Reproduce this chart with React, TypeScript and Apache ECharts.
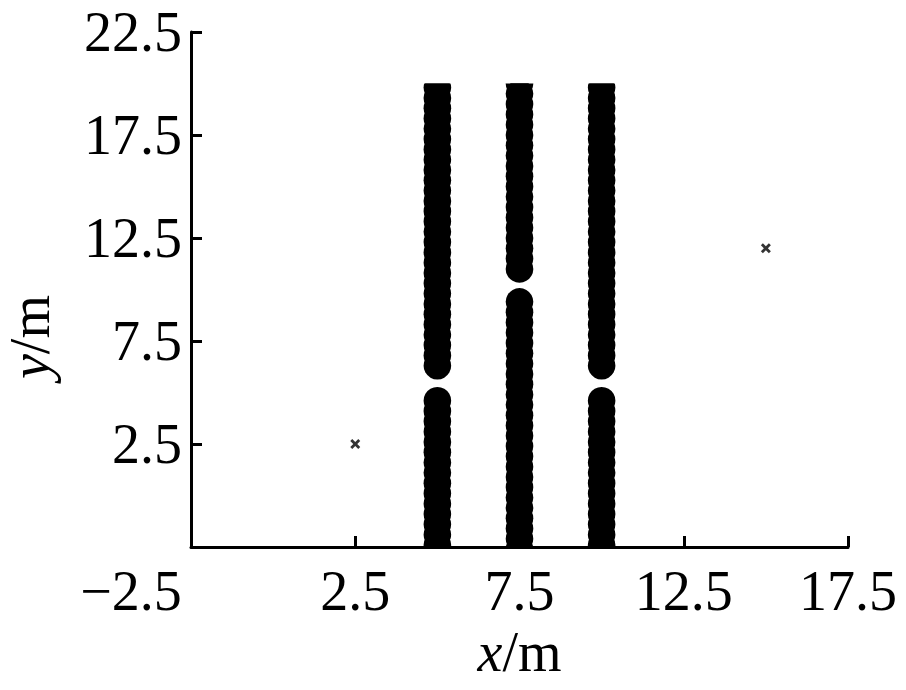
import React, { useEffect, useRef } from 'react';
import * as echarts from 'echarts';

// Axis ranges and tick step
const xRange = [-2.5, 17.5];
const yRange = [-2.5, 22.5];
const tickStep = 5;

// Walls (made of overlapping circular obstacles), clipped at the wall top
const wallTop = 20;
const outerWallX = [5, 10];
const middleWallX = [7.5];
const outerWallLowerY = [-2.9, -2.4, -1.9, -1.4, -0.9, -0.4, 0.1, 0.6, 1.1, 1.6, 2.1, 2.6, 3.1, 3.6, 4.1, 4.6];
const outerWallUpperY = [6.3, 6.8, 7.3, 7.8, 8.3, 8.8, 9.3, 9.8, 10.3, 10.8, 11.3, 11.8, 12.3, 12.8, 13.3, 13.8, 14.3, 14.8, 15.3, 15.8, 16.3, 16.8, 17.3, 17.8, 18.3, 18.8, 19.3, 19.8, 20.3];
const middleWallLowerY = [-2.6, -2.1, -1.6, -1.1, -0.6, -0.1, 0.4, 0.9, 1.4, 1.9, 2.4, 2.9, 3.4, 3.9, 4.4, 4.9, 5.4, 5.9, 6.4, 6.9, 7.4, 7.9, 8.4, 8.9, 9.4];
const middleWallUpperY = [11.0, 11.5, 12.0, 12.5, 13.0, 13.5, 14.0, 14.5, 15.0, 15.5, 16.0, 16.5, 17.0, 17.5, 18.0, 18.5, 19.0, 19.5, 20.0, 20.5];

// Cross markers
const crossX = [2.5, 15];
const crossY = [2.5, 12];

const FONT = '"Liberation Serif", "Times New Roman", Times, serif';

export default function App() {
  const ref = useRef<HTMLDivElement>(null);

  useEffect(() => {
    if (!ref.current) return;
    const chart = echarts.init(ref.current, undefined, { renderer: 'svg' });

    const wallData: number[][] = [];
    outerWallX.forEach((x) => {
      outerWallLowerY.forEach((y) => wallData.push([x, y]));
      outerWallUpperY.forEach((y) => wallData.push([x, y]));
    });
    middleWallX.forEach((x) => {
      middleWallLowerY.forEach((y) => wallData.push([x, y]));
      middleWallUpperY.forEach((y) => wallData.push([x, y]));
    });
    const crossData = crossX.map((x, i) => [x, crossY[i]]);

    const R = 13.8;
    const fmt = (v: number) => String(v).replace('-', '\u2212');

    chart.setOption({
      animation: false,
      backgroundColor: '#fff',
      grid: { left: 191, right: 58, top: 32, bottom: 143, containLabel: false },
      xAxis: {
        type: 'value',
        min: xRange[0],
        max: xRange[1],
        interval: tickStep,
        splitLine: { show: false },
        axisLine: { show: true, onZero: false, lineStyle: { color: '#000', width: 3 } },
        axisTick: { show: true, inside: true, length: 11, lineStyle: { color: '#000', width: 3 } },
        axisLabel: {
          margin: 16,
          color: '#000',
          fontFamily: FONT,
          fontSize: 56,
          showMinLabel: true,
          showMaxLabel: true,
          formatter: (v: number) => (v === xRange[0] ? '{shift|' + fmt(v) + '}' : fmt(v)),
          rich: {
            shift: { fontFamily: FONT, fontSize: 56, color: '#000', padding: [0, 120, 0, 0] },
          },
        },
        name: '{i|x}/m',
        nameLocation: 'middle',
        nameGap: 76,
        nameTextStyle: {
          color: '#000',
          fontFamily: FONT,
          fontSize: 56,
          rich: { i: { fontFamily: FONT, fontSize: 56, fontStyle: 'italic', color: '#000' } },
        },
      },
      yAxis: {
        type: 'value',
        min: yRange[0],
        max: yRange[1],
        interval: tickStep,
        splitLine: { show: false },
        axisLine: { show: true, onZero: false, lineStyle: { color: '#000', width: 3 } },
        axisTick: { show: true, inside: true, length: 11, lineStyle: { color: '#000', width: 3 } },
        axisLabel: {
          margin: 9,
          color: '#000',
          fontFamily: FONT,
          fontSize: 56,
          formatter: (v: number) => (v === yRange[0] ? '' : fmt(v)),
        },
      },
      graphic: [
        {
          type: 'text',
          x: 30,
          y: 337,
          rotation: Math.PI / 2,
          style: {
            text: '{i|y}/m',
            fontFamily: FONT,
            fontSize: 56,
            lineHeight: 48,
            fill: '#000',
            align: 'center',
            verticalAlign: 'middle',
            textAlign: 'center',
            textVerticalAlign: 'middle',
            rich: {
              i: { fontFamily: FONT, fontSize: 56, lineHeight: 48, fontStyle: 'italic', fill: '#000' },
            },
          },
        },
      ],
      series: [
        {
          type: 'custom',
          name: 'walls',
          clip: true,
          data: wallData,
          renderItem: (params: any, api: any) => {
            const x = api.value(0);
            const c = api.coord([x, api.value(1)]);
            const top = api.coord([x, wallTop])[1];
            const bottom = api.coord([x, yRange[0]])[1];
            return {
              type: 'circle',
              shape: { cx: c[0], cy: c[1], r: R },
              style: { fill: '#000' },
              clipPath: {
                type: 'rect',
                shape: { x: c[0] - R - 2, y: top, width: 2 * R + 4, height: bottom - top },
              },
            };
          },
        },
        {
          type: 'scatter',
          name: 'targets',
          data: crossData,
          symbol: 'path://M0,2L2,0L5,3L8,0L10,2L7,5L10,8L8,10L5,7L2,10L0,8L3,5Z',
          symbolSize: 10,
          itemStyle: { color: '#000' },
          z: 5,
        },
      ],
    });

    return () => chart.dispose();
  }, []);

  return (
    <div
      ref={ref}
      style={{ position: 'fixed', left: 0, top: 0, width: 906, height: 690, background: '#fff' }}
    />
  );
}
